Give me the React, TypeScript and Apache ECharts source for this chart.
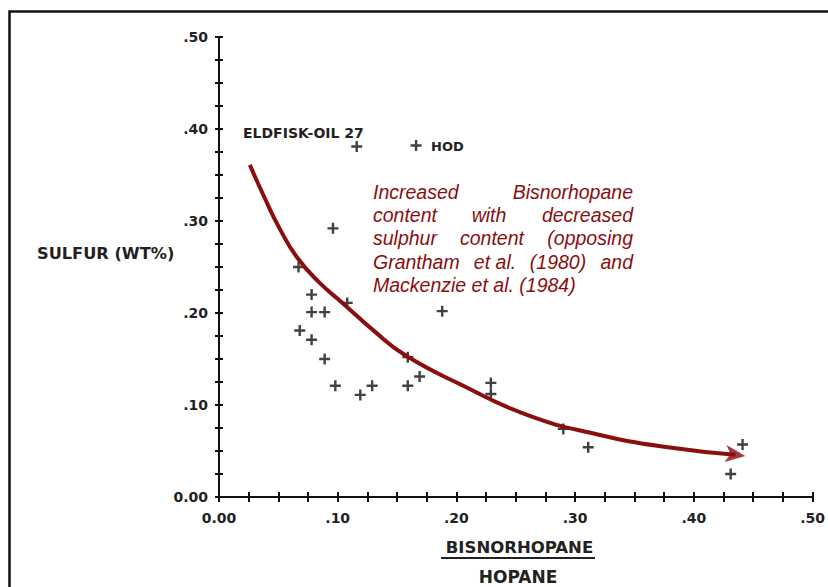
import React, { useEffect, useRef } from "react";
import * as echarts from "echarts";

// Tick labels
const xTickLabels = ["0.00", ".10", ".20", ".30", ".40", ".50"];
const yTickLabels = ["0.00", ".10", ".20", ".30", ".40", ".50"];

// Scatter data: Bisnorhopane/Hopane ratio vs Sulfur (wt%)
const bisnorHopane = [
  0.116, 0.166, 0.096, 0.067, 0.078, 0.078, 0.089, 0.108, 0.188, 0.068, 0.078, 0.089,
  0.159, 0.098, 0.119, 0.129, 0.159, 0.169, 0.229, 0.229, 0.290, 0.311, 0.441, 0.431,
];
const sulfur = [
  0.381, 0.382, 0.292, 0.250, 0.220, 0.201, 0.201, 0.211, 0.202, 0.181, 0.171, 0.150,
  0.152, 0.121, 0.111, 0.121, 0.121, 0.131, 0.124, 0.112, 0.074, 0.054, 0.057, 0.025,
];

// Trend curve (hand-drawn annotation) in data units
const trendX = [0.026, 0.0385, 0.051, 0.066, 0.0846, 0.104, 0.131, 0.157, 0.204, 0.260, 0.319, 0.378, 0.435];
const trendY = [0.361, 0.325, 0.292, 0.260, 0.233, 0.211, 0.180, 0.154, 0.122, 0.089, 0.068, 0.054, 0.046];

const RED = "#8B0E0E";
const INK = "#111";
const PLUS = "path://M4.3,0H6.7V4.3H11V6.7H6.7V11H4.3V6.7H0V4.3H4.3Z";
const ARROW = "path://M0,0L20,8L0,16L5,8Z";

const labelFor = (labels: string[]) => (v: number) => {
  const i = Math.round(v / 0.1);
  return Math.abs(v - i * 0.1) < 1e-6 ? labels[i] : "";
};

const axisFont = {
  fontFamily: "DejaVu Sans",
  fontWeight: "bold" as const,
  fontSize: 14,
  color: "#222",
};

export default function App() {
  const ref = useRef<HTMLDivElement>(null);
  useEffect(() => {
    if (!ref.current) return;
    const chart = echarts.init(ref.current, undefined, { renderer: "svg" });
    const redFont = {
      fontFamily: "Liberation Sans",
      fontStyle: "italic" as const,
      fontSize: 19.5,
      fill: RED,
    };
    const word = (text: string, x: number, y: number, align: string = "left") => ({
      type: "text",
      x,
      y,
      style: { ...redFont, text, align, verticalAlign: "middle" },
    });
    const blackText = (text: string, x: number, y: number, size: number, align = "left") => ({
      type: "text",
      x,
      y,
      style: {
        text,
        fontFamily: "DejaVu Sans",
        fontWeight: "bold",
        fontSize: size,
        fill: "#222",
        align,
        verticalAlign: "middle",
      },
    });
    const last = trendX.length - 1;
    chart.setOption({
      animation: false,
      backgroundColor: "#fff",
      grid: { left: 219, top: 37, width: 597, height: 460 },
      xAxis: [
        {
          type: "value",
          min: 0,
          max: 0.5,
          interval: 0.025,
          position: "bottom",
          axisLine: { show: true, lineStyle: { color: INK, width: 2 } },
          axisTick: { show: true, length: 5, lineStyle: { color: INK, width: 2 } },
          axisLabel: { ...axisFont, margin: 14, formatter: labelFor(xTickLabels) },
          splitLine: { show: false },
        },
        {
          type: "value",
          min: 0,
          max: 0.5,
          interval: 0.025,
          position: "bottom",
          axisLine: { show: false },
          axisTick: { show: true, inside: true, length: 5, lineStyle: { color: INK, width: 2 } },
          axisLabel: { show: false },
          splitLine: { show: false },
        },
      ],
      yAxis: [
        {
          type: "value",
          min: 0,
          max: 0.5,
          interval: 0.025,
          position: "left",
          axisLine: { show: true, lineStyle: { color: INK, width: 2 } },
          axisTick: { show: true, length: 4, lineStyle: { color: INK, width: 2 } },
          axisLabel: { ...axisFont, margin: 11, formatter: labelFor(yTickLabels) },
          splitLine: { show: false },
        },
        {
          type: "value",
          min: 0,
          max: 0.5,
          interval: 0.025,
          position: "left",
          axisLine: { show: false },
          axisTick: { show: true, inside: true, length: 4, lineStyle: { color: INK, width: 2 } },
          axisLabel: { show: false },
          splitLine: { show: false },
        },
      ],
      series: [
        {
          type: "scatter",
          xAxisIndex: 0,
          yAxisIndex: 0,
          symbol: PLUS,
          symbolSize: 11,
          itemStyle: { color: INK },
          data: bisnorHopane.map((x, i) => [x, sulfur[i]]),
          z: 3,
        },
        {
          type: "line",
          xAxisIndex: 0,
          yAxisIndex: 0,
          smooth: 0.5,
          symbol: "none",
          lineStyle: { color: RED, width: 4 },
          data: trendX.map((x, i) => [x, trendY[i]]),
          z: 4,
        },
        {
          type: "scatter",
          xAxisIndex: 0,
          yAxisIndex: 0,
          symbol: ARROW,
          symbolSize: [20, 17],
          symbolRotate: -7,
          itemStyle: { color: RED },
          data: [[trendX[last], trendY[last]]],
          z: 5,
        },
      ],
      graphic: [
        {
          type: "polyline",
          shape: { points: [[9.5, 587], [9.5, 11.5], [828, 11.5]] },
          style: { stroke: "#111", lineWidth: 2.5, fill: "none" },
        },
        blackText("ELDFISK-OIL 27", 243, 133, 14),
        blackText("HOD", 431, 146, 13),
        blackText("SULFUR (WT%)", 37, 253, 16.2),
        blackText("BISNORHOPANE", 519.5, 547, 16.5, "center"),
        {
          type: "line",
          shape: { x1: 441, y1: 558, x2: 595, y2: 558 },
          style: { stroke: "#222", lineWidth: 2 },
        },
        blackText("HOPANE", 518, 577, 17, "center"),
        word("Increased", 373, 192),
        word("Bisnorhopane", 633, 192, "right"),
        word("content", 373, 215),
        word("with", 489, 215, "center"),
        word("decreased", 633, 215, "right"),
        word("sulphur", 373, 238),
        word("content", 492, 238, "center"),
        word("(opposing", 633, 238, "right"),
        word("Grantham", 373, 262),
        word("et al.", 495, 262, "center"),
        word("(1980)", 558, 262, "center"),
        word("and", 633, 262, "right"),
        word("Mackenzie et al. (1984)", 373, 285),
      ],
    });
    return () => chart.dispose();
  }, []);
  return (
    <div
      ref={ref}
      style={{ position: "fixed", left: 0, top: 0, width: 828, height: 587, background: "#fff" }}
    />
  );
}
